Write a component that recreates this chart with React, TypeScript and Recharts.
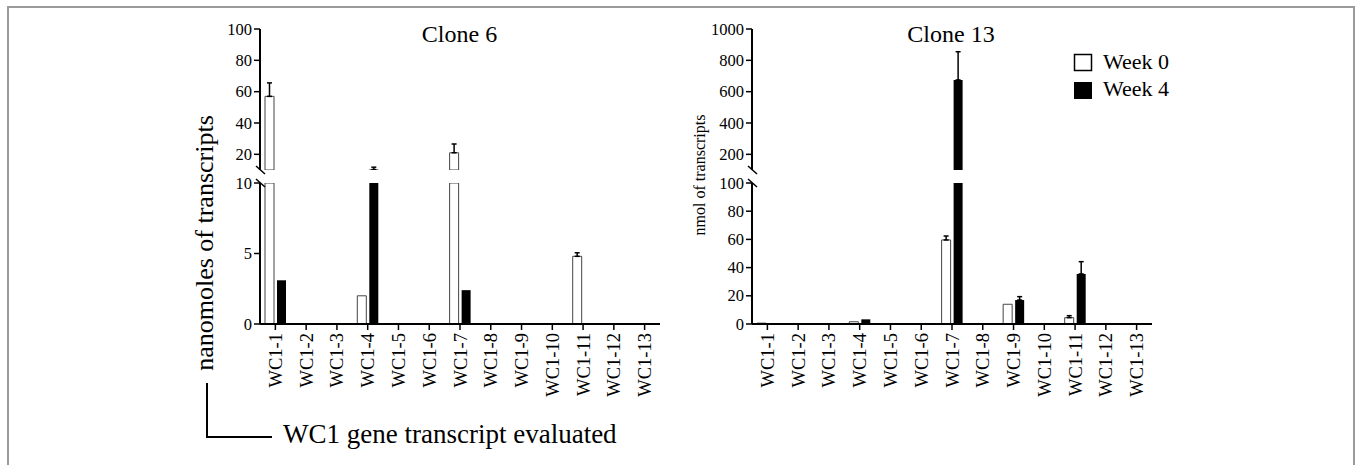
import React from "react";
import { BarChart, Bar, XAxis, YAxis, ErrorBar } from "recharts";

const genes = [
  "WC1-1", "WC1-2", "WC1-3", "WC1-4", "WC1-5", "WC1-6", "WC1-7",
  "WC1-8", "WC1-9", "WC1-10", "WC1-11", "WC1-12", "WC1-13",
];

// Clone 6 (nanomoles)
const clone6Week0 = [57, 0, 0, 2.0, 0, 0, 21, 0, 0, 0, 4.8, 0, 0];
const clone6Week0Err = [8.6, 0, 0, 0, 0, 0, 5.6, 0, 0, 0, 0.25, 0, 0];
const clone6Week4 = [3.1, 0, 0, 10.3, 0, 0, 2.4, 0, 0, 0, 0, 0, 0];
const clone6Week4Err = [0, 0, 0, 1.5, 0, 0, 0, 0, 0, 0, 0, 0, 0];

// Clone 13 (nmol)
const clone13Week0 = [0.6, 0, 0, 1.6, 0, 0, 59.6, 0, 14, 0, 4.5, 0, 0];
const clone13Week0Err = [0, 0, 0, 0, 0, 0, 2.8, 0, 0, 0, 1.4, 0, 0];
const clone13Week4 = [0.4, 0, 0, 3.3, 0, 0, 675, 0, 17, 0, 35.5, 0, 0];
const clone13Week4Err = [0, 0, 0, 0, 0, 0, 180, 0, 2.4, 0, 8.7, 0, 0];

const clone6LowTicks = [0, 5, 10];
const clone6HighTicks = [20, 40, 60, 80, 100];
const clone13LowTicks = [0, 20, 40, 60, 80, 100];
const clone13HighTicks = [200, 400, 600, 800, 1000];

const serif = "Liberation Serif";

// split a series across the broken axis
function buildRows(w0: number[], e0: number[], w4: number[], e4: number[], cut: number, upper: boolean) {
  const pick = (v: number) => (upper ? (v > cut ? v : null) : Math.min(v, cut));
  const err = (v: number, e: number) => {
    if (!e) return null;
    if (upper) return v > cut ? [0, e] : null;
    return v <= cut ? [0, e] : null;
  };
  return genes.map((gene, i) => ({
    gene,
    week0: pick(w0[i]),
    week0Err: err(w0[i], e0[i]),
    week4: pick(w4[i]),
    week4Err: err(w4[i], e4[i]),
  }));
}

const GeneTick = ({ x, y, payload }: any) => (
  <text
    x={x + 6.5}
    y={y + 1}
    transform={`rotate(-90 ${x + 6.5} ${y + 1})`}
    textAnchor="end"
    style={{ fontSize: 18.5, fontFamily: serif }}
    fill="#000"
  >
    {payload.value}
  </text>
);

const ValueTick = ({ x, y, payload }: any) => (
  <text
    x={x}
    y={y + 5.5}
    textAnchor="end"
    style={{ fontSize: 16.5, fontFamily: serif }}
    fill="#000"
  >
    {payload.value}
  </text>
);

type SegProps = {
  data: any[];
  domain: [number, number];
  ticks: number[];
  showX: boolean;
};

function Segment({ data, domain, ticks, showX }: SegProps) {
  return (
    <BarChart
      width={500}
      height={showX ? 231 : 151}
      data={data}
      margin={{ top: 10, right: 20, bottom: 0, left: 0 }}
      barSize={9}
      barGap={3}
    >
      <XAxis
        dataKey="gene"
        hide={!showX}
        height={80}
        interval={0}
        tick={<GeneTick />}
        tickSize={6}
        axisLine={{ stroke: "#000", strokeWidth: 2 }}
        tickLine={{ stroke: "#000", strokeWidth: 1.5 }}
      />
      <YAxis
        width={80}
        domain={domain}
        ticks={ticks}
        allowDataOverflow
        interval={0}
        tickSize={6}
        tick={<ValueTick />}
        axisLine={{ stroke: "#000", strokeWidth: 2 }}
        tickLine={{ stroke: "#000", strokeWidth: 1.5 }}
      />
      <Bar dataKey="week0" fill="#fff" stroke="#444" strokeWidth={1} isAnimationActive={false}>
        <ErrorBar dataKey="week0Err" direction="y" width={2.5} stroke="#000" strokeWidth={1.5} />
      </Bar>
      <Bar dataKey="week4" fill="#000" isAnimationActive={false}>
        <ErrorBar dataKey="week4Err" direction="y" width={2.5} stroke="#000" strokeWidth={1.5} />
      </Bar>
    </BarChart>
  );
}

export default function App() {
  const c6Low = buildRows(clone6Week0, clone6Week0Err, clone6Week4, clone6Week4Err, 10, false);
  const c6High = buildRows(clone6Week0, clone6Week0Err, clone6Week4, clone6Week4Err, 10, true);
  const c13Low = buildRows(clone13Week0, clone13Week0Err, clone13Week4, clone13Week4Err, 100, false);
  const c13High = buildRows(clone13Week0, clone13Week0Err, clone13Week4, clone13Week4Err, 100, true);

  return (
    <div
      style={{
        position: "absolute",
        left: 0,
        top: 0,
        width: 1356,
        height: 465,
        overflow: "hidden",
        background: "#fff",
        fontFamily: serif,
      }}
    >
      <div style={{ position: "absolute", left: 180, top: 19 }}>
        <Segment data={c6High} domain={[10, 100]} ticks={clone6HighTicks} showX={false} />
      </div>
      <div style={{ position: "absolute", left: 180, top: 173 }}>
        <Segment data={c6Low} domain={[0, 10]} ticks={clone6LowTicks} showX />
      </div>
      <div style={{ position: "absolute", left: 672, top: 19 }}>
        <Segment data={c13High} domain={[100, 1000]} ticks={clone13HighTicks} showX={false} />
      </div>
      <div style={{ position: "absolute", left: 672, top: 173 }}>
        <Segment data={c13Low} domain={[0, 100]} ticks={clone13LowTicks} showX />
      </div>

      <svg
        width={1356}
        height={465}
        style={{ position: "absolute", left: 0, top: 0, pointerEvents: "none" }}
        fontFamily={serif}
      >
        <rect x={8} y={7} width={1346} height={480} fill="none" stroke="#9a9a9a" strokeWidth={2} />

        <text x={459.5} y={42} textAnchor="middle" fontSize={24}>Clone 6</text>
        <text x={951} y={42} textAnchor="middle" fontSize={24}>Clone 13</text>

        <text x={213} y={243} textAnchor="middle" fontSize={26} transform="rotate(-90 213 243)">
          nanomoles of transcripts
        </text>
        <text x={705} y={175} textAnchor="middle" fontSize={16} transform="rotate(-90 705 175)">
          nmol of transcripts
        </text>

        {/* axis break marks */}
        <g stroke="#000" strokeWidth={1.5}>
          <line x1={256} y1={166} x2={265} y2={174} />
          <line x1={256} y1={179} x2={265} y2={187} />
          <line x1={748} y1={166} x2={757} y2={174} />
          <line x1={748} y1={179} x2={757} y2={187} />
        </g>

        {/* legend */}
        <rect x={1074.5} y={54.5} width={17} height={16} fill="#fff" stroke="#000" strokeWidth={1.5} />
        <rect x={1074} y={82} width={18} height={17} fill="#000" />
        <text x={1103} y={69} fontSize={22}>Week 0</text>
        <text x={1103} y={96} fontSize={22}>Week 4</text>

        {/* x label bracket */}
        <path d="M207,383 V437 H272" fill="none" stroke="#000" strokeWidth={2} />
        <text x={283} y={443} fontSize={27}>WC1 gene transcript evaluated</text>
      </svg>
    </div>
  );
}
